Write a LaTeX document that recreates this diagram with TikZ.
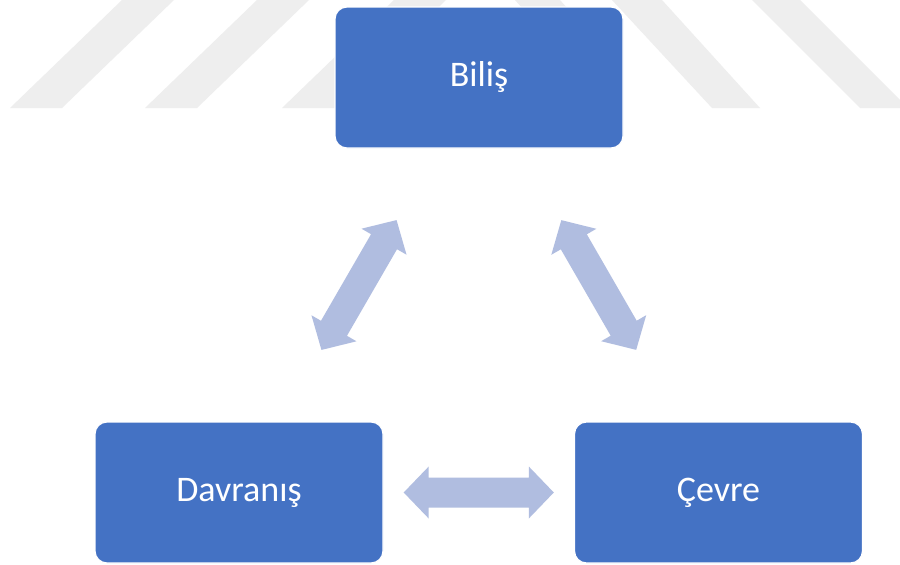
\documentclass[tikz,border=0pt]{standalone}
\usepackage{fontspec}
\setmainfont{Carlito}
\usetikzlibrary{calc}
\definecolor{boxblue}{HTML}{4472C4}
\definecolor{arrowblue}{HTML}{B0BDE0}
\definecolor{wmgray}{HTML}{EEEEEE}
\tikzset{
  box/.style={draw=white, line width=1.2pt, fill=boxblue, rounded corners=12pt,
    minimum width=288pt, minimum height=141pt, inner sep=0pt,
    text=white, font=\fontsize{36}{43}\selectfont},
  arrowfill/.style={fill=arrowblue, draw=none},
  stripe/.style={fill=wmgray, draw=none}
}
% block double arrow between two named tip coordinates
\newcommand{\blockarr}[2]{%
  \coordinate (h1) at ($(#1)!25pt!(#2)$);
  \coordinate (h2) at ($(#2)!25pt!(#1)$);
  \fill[arrowfill] (#1) -- ($(h1)!26pt!90:(#2)$) -- ($(h1)!15pt!90:(#2)$)
    -- ($(h2)!15pt!-90:(#1)$) -- ($(h2)!26pt!-90:(#1)$) -- (#2)
    -- ($(h2)!26pt!90:(#1)$) -- ($(h2)!15pt!90:(#1)$)
    -- ($(h1)!15pt!-90:(#2)$) -- ($(h1)!26pt!-90:(#2)$) -- cycle;}
\begin{document}
\begin{tikzpicture}[x=1pt,y=-1pt]
\useasboundingbox (0,0) rectangle (900,565);
\fill[white] (0,0) rectangle (900,565);
% watermark stripes
\fill[stripe] (10,108) -- (62,108) -- (174,0) -- (122,0) -- cycle;
\fill[stripe] (145,108) -- (197,108) -- (309,0) -- (257,0) -- cycle;
\fill[stripe] (282,108) -- (334,108) -- (446,0) -- (394,0) -- cycle;
\fill[stripe] (515,0) -- (560,0) -- (600,45) -- (555,45) -- cycle;
\fill[stripe] (612,0) -- (662,0) -- (760,108) -- (712,108) -- cycle;
\fill[stripe] (752,0) -- (800,0) -- (908,108) -- (860,108) -- cycle;
% boxes
\node[box] (bil) at (479,77.5) {Biliş};
\node[box] (dav) at (239,492.5) {Davranış};
\node[box] (cev) at (718.5,492.5) {Çevre};
% arrows
\coordinate (a1) at ($(dav.center)!164.7pt!(bil.center)$);
\coordinate (a2) at ($(bil.center)!164.7pt!(dav.center)$);
\coordinate (b1) at ($(bil.center)!164.7pt!(cev.center)$);
\coordinate (b2) at ($(cev.center)!164.7pt!(bil.center)$);
\coordinate (c1) at ($(dav.center)!164.7pt!(cev.center)$);
\coordinate (c2) at ($(cev.center)!164.7pt!(dav.center)$);
\blockarr{a1}{a2}
\blockarr{b1}{b2}
\blockarr{c1}{c2}
\end{tikzpicture}
\end{document}
